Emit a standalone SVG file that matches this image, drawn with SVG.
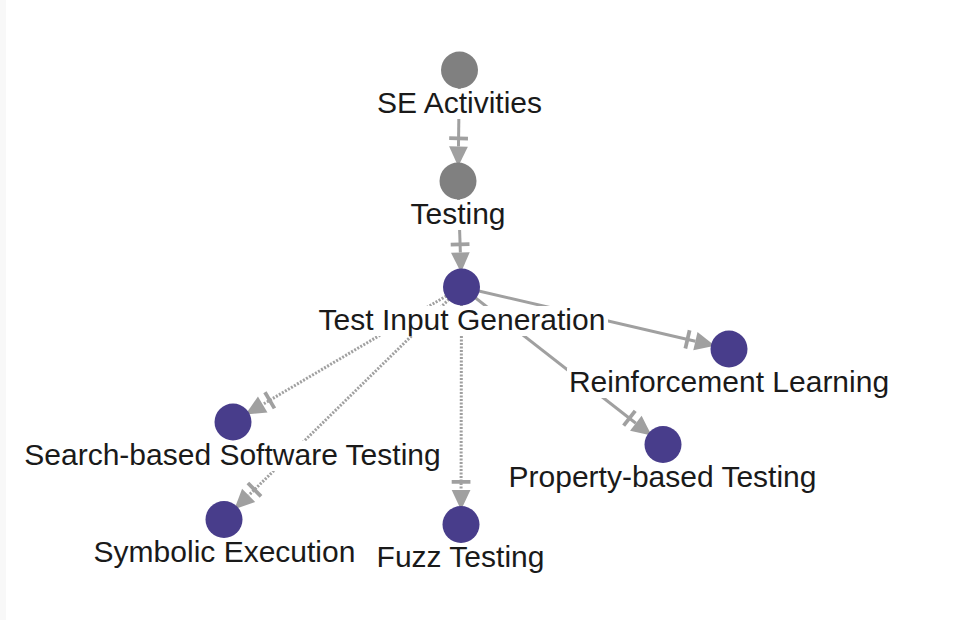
<svg xmlns="http://www.w3.org/2000/svg" width="976" height="620" viewBox="0 0 976 620">
<style>
.edge{stroke:#a0a0a0;stroke-width:3;fill:none}
.dot{stroke-dasharray:2 1.5}
.gray{fill:#808080}
.purple{fill:#483d8b}
.lbg{fill:#ffffff}
.lbl{font-family:"Liberation Sans",Arial,sans-serif;font-size:30px;fill:#1a1a1a;text-anchor:middle}
</style>
<defs>
<marker id="arr" markerUnits="userSpaceOnUse" orient="auto" refX="0" refY="0" markerWidth="40" markerHeight="40" viewBox="-12 -10 32 20" overflow="visible">
<path d="M0,-7.5 L16,0 L0,7.5 Z" fill="#a0a0a0"/>
<rect x="-8" y="-7.5" width="3" height="15" fill="#a0a0a0"/>
</marker>
</defs>
<rect width="976" height="620" fill="#ffffff"/>
<rect x="0" y="0" width="6" height="620" fill="#f8f8f8"/>
<g id="connectors">
<path class="edge" d="M459.5,70 L458.47,146.5" marker-end="url(#arr)"/>
<path class="edge" d="M458,181 L460.36,252.52" marker-end="url(#arr)"/>
<path class="edge" d="M461.5,287 L695.39,341.21" marker-end="url(#arr)"/>
<path class="edge" d="M461.5,287 L635.82,423.26" marker-end="url(#arr)"/>
<path class="edge dot" d="M461.5,287 L262.71,404.45" marker-end="url(#arr)"/>
<path class="edge dot" d="M461.5,287 L248.65,495.37" marker-end="url(#arr)"/>
<path class="edge dot" d="M461.5,287 L461.07,490" marker-end="url(#arr)"/>
</g>
<g id="node-se-activities">
<circle class="gray" cx="459.5" cy="70" r="18.5"/>
<rect class="lbg" x="376" y="89" width="167" height="30"/>
<text class="lbl" x="459.5" y="112.5">SE Activities</text>
</g>
<g id="node-testing">
<circle class="gray" cx="458" cy="181" r="18.5"/>
<rect class="lbg" x="408" y="200" width="100" height="30"/>
<text class="lbl" x="458" y="223.5">Testing</text>
</g>
<g id="node-test-input-generation">
<circle class="purple" cx="461.5" cy="287" r="18.5"/>
<rect class="lbg" x="317" y="306" width="291" height="30"/>
<text class="lbl" x="462" y="329.5">Test Input Generation</text>
</g>
<g id="node-reinforcement-learning">
<circle class="purple" cx="729" cy="349" r="18.5"/>
<rect class="lbg" x="567" y="368" width="324" height="30"/>
<text class="lbl" x="729" y="391.5">Reinforcement Learning</text>
</g>
<g id="node-property-based-testing">
<circle class="purple" cx="663" cy="444.5" r="18.5"/>
<rect class="lbg" x="506" y="463.5" width="313" height="30"/>
<text class="lbl" x="662.5" y="487">Property-based Testing</text>
</g>
<g id="node-search-based-software-testing">
<circle class="purple" cx="233" cy="422" r="18.5"/>
<rect class="lbg" x="22" y="441" width="421" height="30"/>
<text class="lbl" x="232.5" y="464.5">Search-based Software Testing</text>
</g>
<g id="node-symbolic-execution">
<circle class="purple" cx="224" cy="519.5" r="18.5"/>
<rect class="lbg" x="92" y="538.5" width="265" height="30"/>
<text class="lbl" x="224.5" y="562">Symbolic Execution</text>
</g>
<g id="node-fuzz-testing">
<circle class="purple" cx="461" cy="524.5" r="18.5"/>
<rect class="lbg" x="375" y="543.5" width="171" height="30"/>
<text class="lbl" x="460.5" y="567">Fuzz Testing</text>
</g>
</svg>
